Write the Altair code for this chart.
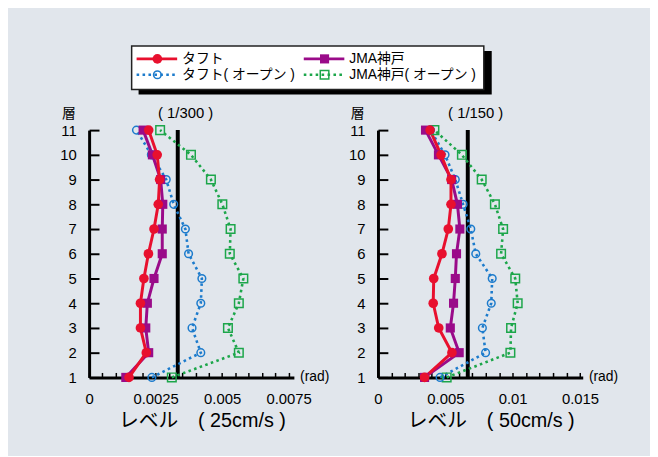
import altair as alt
import pandas as pd

# ---------------- data ----------------
floors = list(range(1, 12))
series = ["タフト", "JMA神戸", "タフト( オープン )", "JMA神戸( オープン )"]
colors = ["#e8102e", "#9a0b89", "#1c7bcc", "#1ca64a"]

# 25cm/s level (floor 1 .. 11)
taft_25 = [0.00150, 0.00215, 0.00193, 0.00193, 0.00206, 0.00223, 0.00244, 0.00260, 0.00265, 0.00256, 0.00224]
jma_25 = [0.00138, 0.00224, 0.00213, 0.00219, 0.00244, 0.00275, 0.00275, 0.00277, 0.00269, 0.00238, 0.00203]
taft_open_25 = [0.00236, 0.00420, 0.00387, 0.00420, 0.00424, 0.00374, 0.00362, 0.00318, 0.00290, 0.00234, 0.00178]
jma_open_25 = [0.00311, 0.00563, 0.00522, 0.00563, 0.00580, 0.00529, 0.00532, 0.00501, 0.00458, 0.00383, 0.00267]

# 50cm/s level (floor 1 .. 11)
taft_50 = [0.00346, 0.00549, 0.00451, 0.00410, 0.00414, 0.00475, 0.00522, 0.00542, 0.00542, 0.00468, 0.00387]
jma_50 = [0.00346, 0.00603, 0.00537, 0.00561, 0.00574, 0.00583, 0.00608, 0.00590, 0.00547, 0.00449, 0.00353]
taft_open_50 = [0.00461, 0.00799, 0.00775, 0.00841, 0.00848, 0.00726, 0.00689, 0.00632, 0.00574, 0.00498, 0.00390]
jma_open_50 = [0.00510, 0.00983, 0.00988, 0.01037, 0.01019, 0.00914, 0.00929, 0.00868, 0.00770, 0.00623, 0.00419]

levels = ["レベル　( 25cm/s )", "レベル　( 50cm/s )"]
limit_labels = ["( 1/300 )", "( 1/150 )"]
limits = [1 / 300, 1 / 150]
x_max = [0.0077, 0.0152]
tick_steps = [0.0005, 0.001]
tick_ends = [0.0075, 0.015]
label_mult = [400, 200]
unit_label = "(rad)"
floor_title = "層"

# ---------------- styles ----------------
FONT = "Liberation Sans, Arial, Noto Sans CJK JP"
W, H = 207, 250
line_styles = [
    dict(strokeWidth=3),
    dict(strokeWidth=3),
    dict(strokeWidth=2.6, strokeDash=[2.6, 3.4]),
    dict(strokeWidth=2.6, strokeDash=[2.6, 3.4]),
]
point_styles = [
    dict(shape="circle", filled=True, size=95),
    dict(shape="square", filled=True, size=85),
    dict(shape="circle", filled=False, size=60, strokeWidth=1.5),
    dict(shape="square", filled=False, size=75, strokeWidth=1.5),
]


def panel(i, data_lists, with_legend):
    rows = []
    for s, vals in zip(series, data_lists):
        for f, v in zip(floors, vals):
            rows.append({"series": s, "floor": f, "value": v})
    df = pd.DataFrame(rows)

    n = int(round(tick_ends[i] / tick_steps[i]))
    tick_vals = [round(k * tick_steps[i], 6) for k in range(n + 1)]
    m = label_mult[i]
    label_expr = (
        f"abs(datum.value*{m} - round(datum.value*{m})) < 0.01 ? "
        f"(datum.value == 0 ? '0' : toString(round(datum.value*100000)/100000)) : ''"
    )
    xenc = alt.X(
        "value:Q",
        scale=alt.Scale(domain=[0, x_max[i]], nice=False, zero=True),
        axis=alt.Axis(
            values=tick_vals, labelExpr=label_expr, tickSize={"expr": "-5"},
            labelPadding=19, domainWidth=3, domainColor="black", tickColor="black",
            tickWidth=1.5, labelFontSize=15, labelColor="black", grid=False,
            labelFlush=False, labelOverlap=False,
            title=levels[i], titleFontSize=20, titleFontWeight="normal",
            titleX=114, titleY=44, titleAlign="center", titleBaseline="middle",
            titleColor="black",
        ),
    )
    yenc = alt.Y(
        "floor:Q",
        scale=alt.Scale(domain=[1, 11], nice=False, zero=False),
        axis=alt.Axis(
            values=floors, format="d", tickSize={"expr": "-10"}, labelPadding=23,
            domainWidth=3, domainColor="black", tickColor="black", tickWidth=2,
            labelFontSize=15, labelColor="black", grid=False, labelOverlap=False,
            title=floor_title, titleAngle=0, titleX=-21, titleY=-17,
            titleAlign="center", titleBaseline="middle", titleFontSize=14,
            titleFontWeight="normal", titleColor="black",
        ),
    )

    layers = []
    # threshold
    lim_df = pd.DataFrame({"value": [limits[i]], "lab": [limit_labels[i]]})
    layers.append(alt.Chart(lim_df).mark_rule(color="black", strokeWidth=4).encode(x=xenc))
    layers.append(
        alt.Chart(lim_df).mark_text(fontSize=15, dx=8, baseline="middle", color="black")
        .encode(x=xenc, y=alt.value(-17), text="lab:N")
    )
    one = pd.DataFrame({"t": [unit_label]})
    layers.append(
        alt.Chart(one).mark_text(fontSize=14, baseline="middle", color="black")
        .encode(x=alt.value(228), y=alt.value(250), text="t:N")
    )
    # lines
    for k in [3, 2, 1, 0]:
        d = df[df.series == series[k]]
        layers.append(
            alt.Chart(d).mark_line(color=colors[k], **line_styles[k])
            .encode(x=xenc, y=yenc, order="floor:Q")
        )
    # markers
    for k in [3, 2, 1, 0]:
        d = df[df.series == series[k]]
        layers.append(
            alt.Chart(d).mark_point(color=colors[k], opacity=1, **point_styles[k])
            .encode(x=xenc, y=yenc)
        )

    if with_legend:
        box = pd.DataFrame({"k": [0]})
        layers.append(
            alt.Chart(box).mark_rect(color="black")
            .encode(x=alt.value(50), x2=alt.value(407), y=alt.value(-80), y2=alt.value(-36))
        )
        layers.append(
            alt.Chart(box).mark_rect(fill="white", stroke="#222", strokeWidth=1.5)
            .encode(x=alt.value(43), x2=alt.value(399), y=alt.value(-85), y2=alt.value(-41))
        )
        for k, s in enumerate(series):
            col, row = k % 2, k // 2
            x0 = 48 + 169 * col
            yy = -72 + 16 * row
            item = pd.DataFrame({"series": [s]})
            layers.append(
                alt.Chart(item).mark_rule(color=colors[k], **line_styles[k])
                .encode(x=alt.value(x0), x2=alt.value(x0 + 41), y=alt.value(yy))
            )
            layers.append(
                alt.Chart(item).mark_point(color=colors[k], opacity=1, **point_styles[k])
                .encode(x=alt.value(x0 + 21), y=alt.value(yy))
            )
            layers.append(
                alt.Chart(item).mark_text(align="left", baseline="middle", fontSize=14, color="black")
                .encode(x=alt.value(x0 + 46), y=alt.value(yy), text="series:N")
            )
        # invisible extent marker so that the gray background fills the page
        layers.append(
            alt.Chart(box).mark_rule(opacity=0, strokeWidth=1)
            .encode(x=alt.value(-82), x2=alt.value(567), y=alt.value(-121), y2=alt.value(327))
        )

    return alt.layer(*layers).properties(width=W, height=H)


left = panel(0, [taft_25, jma_25, taft_open_25, jma_open_25], True)
right = panel(1, [taft_50, jma_50, taft_open_50, jma_open_50], False)

chart = (
    alt.hconcat(left, right, spacing=85, bounds="flush")
    .properties(padding=0, autosize=alt.AutoSizeParams(type="pad"))
    .configure(background="#e1e6ec", font=FONT)
    .configure_view(stroke=None)
)

chart.save("out.html", embed_options={"renderer": "svg", "actions": False})
